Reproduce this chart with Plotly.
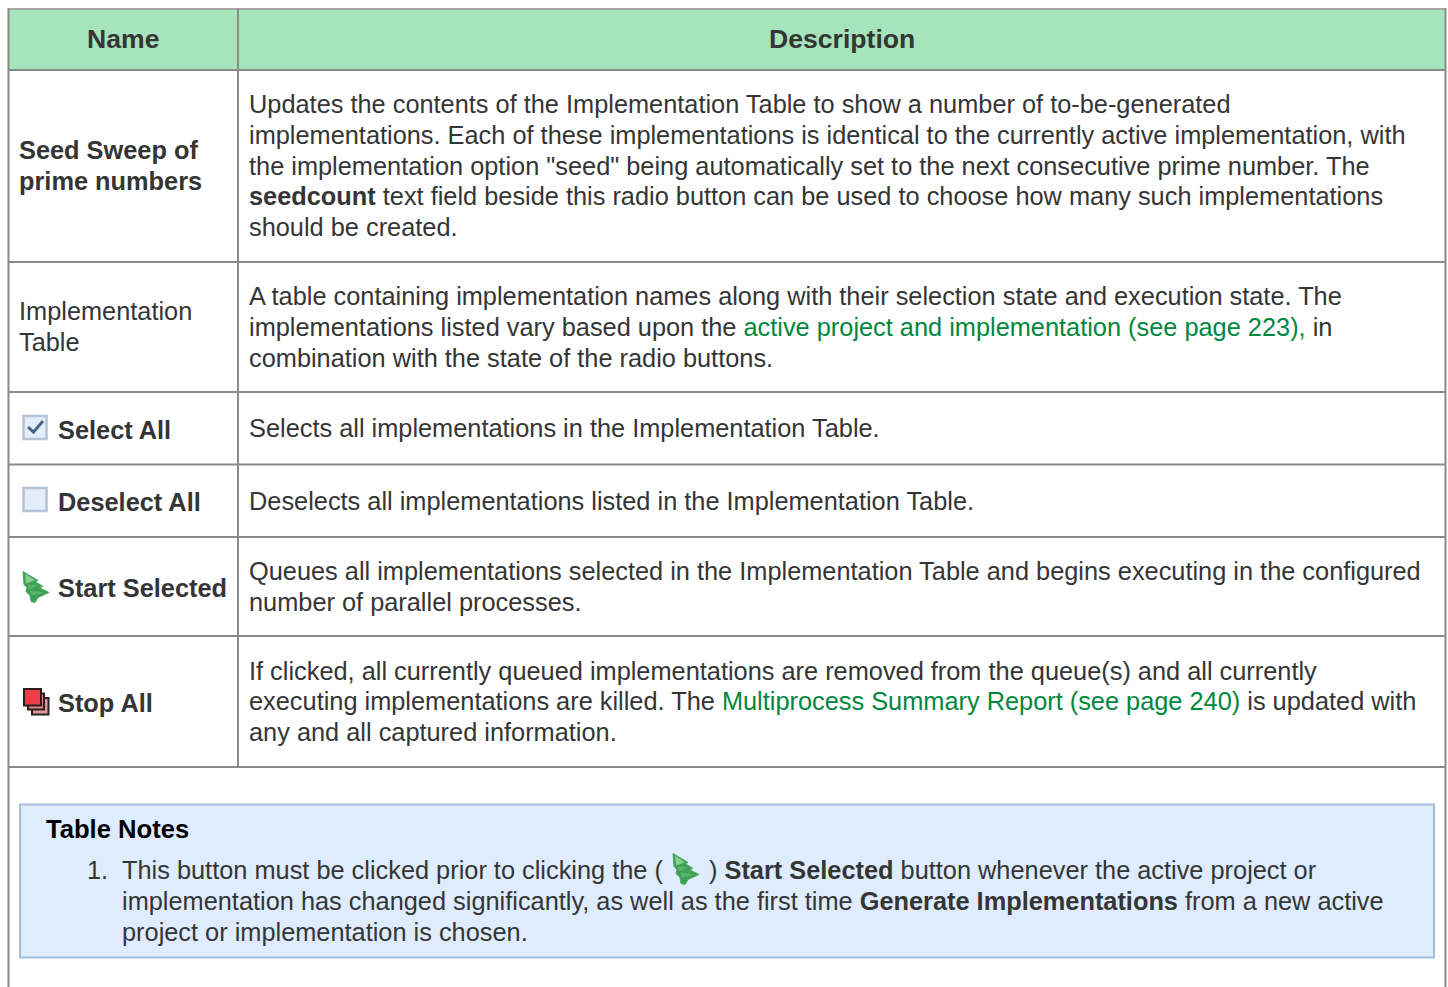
import plotly.graph_objects as go

FONT = "Liberation Sans"
TEXT = "#353535"
LINK = "#00873e"
SIZE = 25.35

headers = ["Name", "Description"]
name_cells = [
    ("<b>Seed Sweep of</b>", 149.5), ("<b>prime numbers</b>", 180.5),
    ("Implementation", 310.5), ("Table", 341.5),
]
icon_names = [("<b>Select All</b>", 429.5), ("<b>Deselect All</b>", 502), ("<b>Start Selected</b>", 587.5), ("<b>Stop All</b>", 702.5)]


def link(s):
    return f'<span style="color:{LINK}">{s}</span>'


description_lines = [
    ("Updates the contents of the Implementation Table to show a number of to-be-generated", 103.5),
    ("implementations. Each of these implementations is identical to the currently active implementation, with", 134.5),
    ('the implementation option "seed" being automatically set to the next consecutive prime number. The', 165.5),
    ("<b>seedcount</b> text field beside this radio button can be used to choose how many such implementations", 196),
    ("should be created.", 227),
    ("A table containing implementation names along with their selection state and execution state. The", 295.5),
    ("implementations listed vary based upon the " + link("active project and implementation (see page 223),") + " in", 326.5),
    ("combination with the state of the radio buttons.", 357.5),
    ("Selects all implementations in the Implementation Table.", 427.5),
    ("Deselects all implementations listed in the Implementation Table.", 500.5),
    ("Queues all implementations selected in the Implementation Table and begins executing in the configured", 570.5),
    ("number of parallel processes.", 601.5),
    ("If clicked, all currently queued implementations are removed from the queue(s) and all currently", 670.5),
    ("executing implementations are killed. The " + link("Multiprocess Summary Report (see page 240)") + " is updated with", 701),
    ("any and all captured information.", 732),
]
note_lines = [
    ("This button must be clicked prior to clicking the (", 870, 121),
    (") <b>Start Selected</b> button whenever the active project or", 870, 708),
    ("implementation has changed significantly, as well as the first time <b>Generate Implementations</b> from a new active", 900.5, 121),
    ("project or implementation is chosen.", 931.5, 121),
]
row_lines = [70, 262, 392, 464.5, 537, 636, 767]

fig = go.Figure()
shapes = []
ann = []


def text(s, x, y, anchor="left", color=TEXT, size=SIZE):
    ann.append(dict(text=s, x=x, y=y, xref="x", yref="y", xanchor=anchor, yanchor="middle",
                    showarrow=False, align="left", borderpad=0,
                    font=dict(family=FONT, size=size, color=color)))


def rect(x0, y0, x1, y1, fill=None, line=None, w=0):
    shapes.append(dict(type="rect", x0=x0, y0=y0, x1=x1, y1=y1, xref="x", yref="y",
                       fillcolor=fill or "rgba(0,0,0,0)", line=dict(color=line or "rgba(0,0,0,0)", width=w)))


def seg(x0, y0, x1, y1, color="#8a8a8a", w=2):
    shapes.append(dict(type="line", x0=x0, y0=y0, x1=x1, y1=y1, xref="x", yref="y", line=dict(color=color, width=w)))


def poly(points, fill, line=None, w=0):
    path = "M " + " L ".join(f"{a},{b}" for a, b in points) + " Z"
    shapes.append(dict(type="path", path=path, xref="x", yref="y", fillcolor=fill,
                       line=dict(color=line or "rgba(0,0,0,0)", width=w)))


def tree(ox, oy):
    outline = [(0, 0), (15, 9), (12, 10), (20, 15), (16, 16), (26, 21), (15, 26), (12, 31), (8, 30), (7, 24),
               (3, 20), (4, 16), (1, 13)]
    poly([(ox + a, oy + b) for a, b in outline], "#3d9e56", "#4ba866", 1)
    poly([(ox + a, oy + b) for a, b in [(2, 2), (12, 9), (3, 12)]], "#86cf8b")
    poly([(ox + a, oy + b) for a, b in [(5, 13), (16, 14), (6, 18)]], "#5cb56a")
    poly([(ox + a, oy + b) for a, b in [(7, 19), (22, 21), (9, 24)]], "#5cb56a")


# header band and the notes box
rect(8.5, 8.5, 1445.5, 70, fill="#a6e5bb")
rect(20, 804.5, 1434, 957.5, fill="#deecfe", line="#a3bcdb", w=2)

# grid
seg(8.5, 9, 1445.5, 9, "#a8a8a8")
seg(8.5, 8, 8.5, 987, "#8a8a8a")
seg(1445.5, 8, 1445.5, 987, "#8a8a8a")
seg(238, 8, 238, 767)
for y in row_lines:
    seg(8.5, y, 1445.5, y)

# checkbox icons
for y0, checked in [(416, True), (488, False)]:
    shapes.append(dict(type="rect", x0=23.5, y0=y0, x1=46.5, y1=y0 + 23, xref="x", yref="y",
                       fillcolor="#e3eefa", line=dict(color="#b3c2d6", width=2.5)))
    if checked:
        shapes.append(dict(type="path", path=f"M 28,{y0+11} L 33.5,{y0+16} L 43,{y0+5}", xref="x", yref="y",
                           line=dict(color="#4a6488", width=3), fillcolor="rgba(0,0,0,0)"))

# stop icon
rect(32, 698, 48.5, 714.5, fill="#dd9a9a", line="#2b2020", w=2)
rect(28, 693.5, 44, 709.5, fill="#e88088", line="#2b2020", w=2)
rect(24, 689, 41, 705.5, fill="#ef3a4a", line="#2b2020", w=2)

tree(23, 571.5)
tree(673, 853.5)

# texts
text("<b>Name</b>", 123, 39, "center", size=26.6)
text("<b>Description</b>", 842, 39, "center", size=26.6)
for s, y in name_cells:
    text(s, 18, y)
for s, y in icon_names:
    text(s, 57, y)
for s, y in description_lines:
    text(s, 248, y)
text("<b>Table Notes</b>", 45, 829, color="#000000", size=25.6)
text("1.", 86, 870)
for s, y, x in note_lines:
    text(s, x, y)

fig.update_layout(
    width=1448, height=987, margin=dict(l=0, r=0, t=0, b=0),
    paper_bgcolor="white", plot_bgcolor="white", showlegend=False,
    xaxis=dict(range=[0, 1448], visible=False, fixedrange=True),
    yaxis=dict(range=[987, 0], visible=False, fixedrange=True),
    shapes=shapes, annotations=ann,
)
fig.write_html("out.html", config={"displayModeBar": False},
               post_script="document.body.style.margin='0';document.documentElement.style.overflow='hidden';")
